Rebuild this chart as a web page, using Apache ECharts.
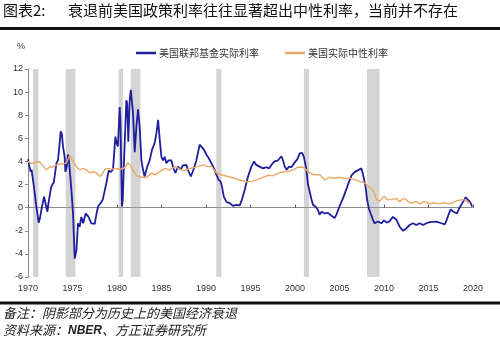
<!DOCTYPE html>
<html><head><meta charset="utf-8">
<script src="https://cdn.jsdelivr.net/npm/echarts@6/dist/echarts.min.js"></script>
<style>html,body{margin:0;padding:0;background:#fff}#c{width:500px;height:341px}</style>
</head><body><div id="c"></div>
<script>
const titleLabel = '图表2:';
const titleText = '衰退前美国政策利率往往显著超出中性利率，当前并不存在';
const seriesNames = ['美国联邦基金实际利率', '美国实际中性利率'];
const unitText = '%';
const noteText = '备注：阴影部分为历史上的美国经济衰退';
const sourcePrefix = '资料来源：';
const sourceOrg = 'NBER';
const sourceRest = '、方正证券研究所';
const yMin = -6, yMax = 12, yStep = 2;
const xMin = 1970, xMax = 2020, xStep = 5;

// NBER recessions as drawn (start, end)
const recessionStarts = [1970.56, 1974.24, 1980.19, 1981.54, 1991.15, 2001.0, 2008.09];
const recessionEnds   = [1971.17, 1975.33, 1980.67, 1982.63, 1991.73, 2001.58, 2009.5];

// 美国联邦基金实际利率 [year, %]
const fedRealRate = [
[1970.0,4.2],[1970.15,3.6],[1970.3,3.1],[1970.4,3.3],[1970.67,1.8],[1970.9,0.3],[1971.2,-1.3],[1971.35,-0.9],
[1971.5,-0.2],[1971.8,0.95],[1972.0,0.9],[1972.18,-0.35],[1972.3,0.4],[1972.6,1.8],[1972.9,2.2],[1973.2,3.85],
[1973.37,4.1],[1973.56,5.6],[1973.67,6.6],[1973.8,6.4],[1973.93,5.3],[1974.12,4.4],[1974.2,3.1],[1974.35,3.55],
[1974.5,4.6],[1974.6,4.1],[1974.88,1.5],[1975.06,-0.5],[1975.25,-4.4],[1975.44,-3.7],[1975.62,-1.35],[1975.8,-1.65],
[1976.0,-0.8],[1976.2,-1.35],[1976.48,-0.5],[1976.8,-0.8],[1977.12,-1.35],[1977.3,-1.2],[1977.5,-1.4],[1977.68,-0.6],
[1977.87,0.1],[1978.17,0.4],[1978.4,0.7],[1978.8,2.1],[1979.07,3.2],[1979.3,3.1],[1979.55,3.3],[1979.82,6.15],
[1979.95,5.6],[1980.1,5.3],[1980.3,8.7],[1980.38,7.6],[1980.56,0.1],[1980.65,0.7],[1980.79,4.1],[1980.95,7.3],
[1981.05,9.3],[1981.15,9.0],[1981.27,5.7],[1981.43,9.3],[1981.55,10.2],[1981.8,8.2],[1981.99,4.8],[1982.18,7.0],
[1982.36,8.5],[1982.55,7.0],[1982.74,4.1],[1982.92,3.3],[1983.1,2.7],[1983.4,3.55],[1983.67,4.1],[1983.93,5.0],
[1984.23,5.6],[1984.43,6.45],[1984.62,7.6],[1984.8,5.9],[1984.99,4.4],[1985.17,4.1],[1985.36,4.4],[1985.55,3.85],
[1985.8,4.1],[1986.1,4.1],[1986.3,3.5],[1986.56,3.0],[1986.85,3.55],[1987.16,3.3],[1987.4,3.65],[1987.6,3.55],
[1987.8,3.7],[1988.0,3.2],[1988.3,2.7],[1988.6,3.3],[1988.92,4.1],[1989.29,5.45],[1989.5,5.3],[1989.78,5.0],
[1990.04,4.6],[1990.3,4.3],[1990.6,3.85],[1990.9,3.4],[1991.17,2.85],[1991.42,2.4],[1991.65,2.25],[1991.8,1.8],
[1992.0,0.95],[1992.3,0.5],[1992.66,0.4],[1993.03,0.15],[1993.4,0.25],[1993.79,0.2],[1994.04,0.7],[1994.35,1.55],
[1994.72,2.7],[1995.1,3.55],[1995.4,4.0],[1995.65,3.7],[1996.03,3.55],[1996.4,3.4],[1996.8,3.5],[1997.1,3.4],
[1997.35,3.7],[1997.7,4.0],[1998.1,4.1],[1998.47,4.45],[1998.65,4.1],[1998.85,3.55],[1999.05,3.27],[1999.3,3.55],
[1999.6,3.5],[1999.9,3.85],[2000.27,4.2],[2000.53,4.7],[2000.8,4.75],[2001.0,4.4],[2001.28,3.3],[2001.46,2.0],
[2001.65,1.4],[2001.85,0.7],[2002.02,0.25],[2002.3,0.1],[2002.58,-0.2],[2002.75,-0.6],[2003.0,-0.35],[2003.34,-0.5],
[2003.7,-0.45],[2004.1,-0.7],[2004.46,-0.9],[2004.65,-0.6],[2005.0,0.1],[2005.39,0.8],[2005.77,1.6],[2006.0,2.1],
[2006.35,2.8],[2006.73,3.1],[2007.1,3.25],[2007.46,3.4],[2007.65,2.85],[2007.93,1.8],[2008.1,0.7],[2008.29,-0.05],
[2008.5,-0.5],[2008.76,-1.05],[2008.95,-1.35],[2009.33,-1.2],[2009.7,-1.35],[2010.0,-1.1],[2010.3,-1.3],[2010.6,-1.2],
[2011.0,-0.8],[2011.4,-1.05],[2011.76,-1.65],[2012.13,-2.0],[2012.5,-1.8],[2012.88,-1.5],[2013.25,-1.35],[2013.63,-1.5],
[2014.0,-1.35],[2014.4,-1.5],[2014.76,-1.35],[2015.13,-1.25],[2015.33,-1.15],[2015.9,-1.2],[2016.45,-1.35],[2016.82,-1.45],
[2017.05,-1.05],[2017.3,-0.5],[2017.49,-0.15],[2017.8,-0.35],[2018.2,-0.5],[2018.46,-0.05],[2018.88,0.5],[2019.18,0.9],
[2019.4,0.8],[2019.7,0.45],[2019.9,0.1]
];

// 美国实际中性利率 [year, %]
const neutralRate = [
[1970.0,4.0],[1970.3,3.85],[1970.7,3.85],[1971.0,4.0],[1971.3,3.95],[1971.6,3.7],[1972.07,3.27],[1972.44,3.55],
[1972.8,3.5],[1973.19,3.7],[1973.7,3.78],[1974.3,3.85],[1974.69,4.5],[1975.0,4.1],[1975.44,3.55],[1975.8,3.27],
[1976.18,3.4],[1976.55,3.27],[1976.93,3.0],[1977.3,3.12],[1977.68,3.0],[1978.05,2.7],[1978.3,2.85],[1978.6,3.27],
[1979.0,3.4],[1979.4,3.3],[1979.74,3.4],[1980.3,3.3],[1980.7,3.4],[1980.95,3.55],[1981.24,3.9],[1981.6,3.55],
[1981.9,3.1],[1982.18,2.8],[1982.74,2.63],[1983.3,2.6],[1983.87,2.98],[1984.3,2.85],[1984.8,3.12],[1985.36,3.4],
[1985.9,3.27],[1986.5,3.55],[1987.24,3.27],[1987.6,3.2],[1988.2,3.4],[1989.1,3.55],[1989.66,3.7],[1990.22,3.55],
[1990.6,3.6],[1991.17,3.0],[1991.7,2.85],[1992.47,2.7],[1993.2,2.55],[1993.98,2.35],[1994.5,2.25],[1995.1,2.25],
[1995.65,2.4],[1996.2,2.55],[1996.97,2.8],[1997.5,2.75],[1997.9,2.9],[1998.47,3.07],[1999.2,3.12],[1999.78,3.27],
[2000.34,3.5],[2000.9,3.5],[2001.28,3.27],[2001.65,3.0],[2002.2,2.85],[2002.8,2.85],[2003.34,2.4],[2003.9,2.63],
[2004.46,2.55],[2005.0,2.63],[2005.6,2.5],[2006.15,2.55],[2006.73,2.4],[2007.3,2.25],[2007.7,2.2],[2008.1,1.97],
[2008.48,1.7],[2008.85,1.4],[2009.15,0.7],[2009.5,0.55],[2010.0,1.0],[2010.4,0.67],[2010.9,0.72],[2011.4,0.8],
[2011.75,0.52],[2012.13,0.8],[2012.5,0.67],[2013.0,0.38],[2013.6,0.52],[2014.1,0.33],[2014.4,0.52],[2014.76,0.5],
[2015.1,0.33],[2015.6,0.43],[2016.2,0.33],[2016.7,0.43],[2017.2,0.33],[2017.7,0.43],[2018.2,0.6],[2018.7,0.67],
[2019.1,0.67],[2019.4,0.45],[2019.7,0.38]
];

const CJK = '"Noto Sans CJK SC", sans-serif';
const NUM = '"Liberation Sans", Arial, sans-serif';
const axisGray = '#8c8c8c';

const chart = echarts.init(document.getElementById('c'), null, {renderer: 'canvas'});
const bands = recessionStarts.map((s, i) => [{xAxis: s}, {xAxis: recessionEnds[i]}]);

chart.setOption({
  animation: false,
  backgroundColor: '#fff',
  grid: {left: 28, right: 27, top: 69, bottom: 64},
  legend: {
    data: seriesNames, left: 131, top: 43, itemWidth: 20, itemHeight: 2.5, itemGap: 26,
    icon: 'rect', textStyle: {fontSize: 10, color: '#333', fontFamily: CJK, padding: [0, 0, 0, -2]}
  },
  xAxis: [
    {type: 'value', min: xMin, max: xMax, interval: xStep,
     axisLine: {show: true, onZero: true, lineStyle: {color: axisGray, width: 1}},
     axisTick: {show: true, inside: true, length: 3, lineStyle: {color: '#555'}},
     axisLabel: {show: false}, splitLine: {show: false}},
    {type: 'value', min: xMin, max: xMax, interval: xStep, position: 'bottom',
     axisLine: {show: false, onZero: false}, axisTick: {show: false},
     axisLabel: {show: true, margin: 7, fontSize: 9, color: '#333', fontFamily: NUM,
                 formatter: v => String(Math.round(v))},
     splitLine: {show: false}}
  ],
  yAxis: {type: 'value', min: yMin, max: yMax, interval: yStep,
    axisLine: {show: true, lineStyle: {color: axisGray, width: 1}},
    axisTick: {show: true, inside: false, length: 3, lineStyle: {color: axisGray}},
    axisLabel: {fontSize: 9, color: '#333', margin: 5, fontFamily: NUM},
    splitLine: {show: false}},
  series: [
    {name: seriesNames[0], type: 'line', data: fedRealRate, showSymbol: false, z: 2,
     itemStyle: {color: '#1e1e9e'}, lineStyle: {color: '#1e1e9e', width: 1.8}},
    {name: seriesNames[1], type: 'line', data: neutralRate, showSymbol: false, z: 3,
     itemStyle: {color: '#eaa866'}, lineStyle: {color: '#eaa866', width: 1.4}},
    {name: 'recession', type: 'line', data: [], z: 5, silent: true,
     markArea: {silent: true, itemStyle: {color: 'rgba(160,160,160,0.45)'}, data: bands}}
  ],
  graphic: [
    {type: 'text', left: 3, top: 3, style: {text: titleLabel, fontSize: 15, fill: '#111', fontFamily: CJK}},
    {type: 'text', left: 68, top: 3, style: {text: titleText, fontSize: 15, fill: '#111', fontFamily: CJK}},
    {type: 'rect', shape: {x: 0, y: 27, width: 500, height: 3}, style: {fill: '#111'}},
    {type: 'text', left: 17, top: 42, style: {text: unitText, fontSize: 9, fill: '#333', fontFamily: NUM}},
    {type: 'rect', shape: {x: 0, y: 301.5, width: 500, height: 3}, style: {fill: '#111'}},
    {type: 'text', left: 3, top: 307, style: {text: noteText, fontSize: 13, fontStyle: 'italic', fill: '#222', fontFamily: CJK}},
    {type: 'text', left: 3, top: 324, style: {
      text: '{a|' + sourcePrefix + '}{b|' + sourceOrg + '}{a|' + sourceRest + '}',
      rich: {a: {fontSize: 13, fontStyle: 'italic', fill: '#222', fontFamily: CJK},
             b: {fontSize: 12, fontStyle: 'italic', fontWeight: 'bold', fill: '#222', fontFamily: NUM}}}}
  ]
});
</script></body></html>
